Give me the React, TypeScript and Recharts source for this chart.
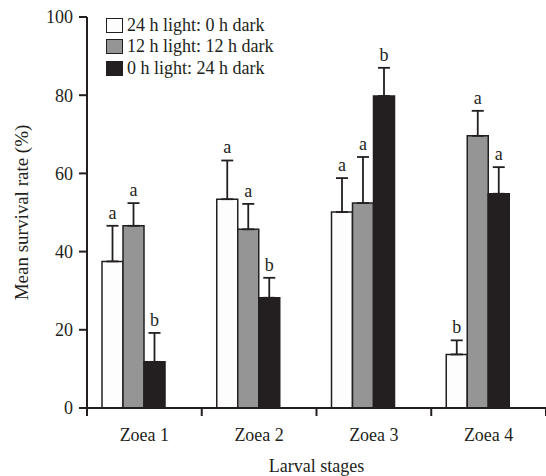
import React from 'react'
import {
  Bar,
  BarChart,
  ErrorBar,
  LabelList,
  Legend,
  XAxis,
  YAxis,
} from 'recharts'

const stages = ['Zoea 1', 'Zoea 2', 'Zoea 3', 'Zoea 4']

const light24 = [37.5, 53.4, 50.1, 13.7]
const light24Err = [9.1, 9.9, 8.7, 3.6]
const light24Sig = ['a', 'a', 'a', 'b']

const light12 = [46.6, 45.7, 52.4, 69.6]
const light12Err = [5.8, 6.5, 11.8, 6.4]
const light12Sig = ['a', 'a', 'a', 'a']

const light0 = [11.8, 28.2, 79.8, 54.8]
const light0Err = [7.4, 5.1, 7.2, 6.8]
const light0Sig = ['b', 'b', 'b', 'a']

const yTicks = [0, 20, 40, 60, 80, 100]

const series = [
  { key: 'l24', name: '24 h light: 0 h dark', fill: '#fdfdfd', values: light24, errs: light24Err, sig: light24Sig },
  { key: 'l12', name: '12 h light: 12 h dark', fill: '#959595', values: light12, errs: light12Err, sig: light12Sig },
  { key: 'l0', name: '0 h light: 24 h dark', fill: '#231f20', values: light0, errs: light0Err, sig: light0Sig },
]

const data = stages.map((stage, i) => {
  const row: any = { stage }
  series.forEach((s) => {
    row[s.key] = s.values[i]
    row[s.key + 'Err'] = [0, s.errs[i]]
    row[s.key + 'Sig'] = s.sig[i]
  })
  return row
})

const ink = '#231f20'
const font = 'Liberation Serif, serif'
const fs = 18

function StageTick(props: any) {
  const { x, y, payload, index, visibleTicksCount } = props
  const half = payload?.offset ?? (props.width ?? 459) / (visibleTicksCount ?? 4) / 2
  return (
    <g>
      <line x1={x - half} y1={y} x2={x - half} y2={y + 8} stroke={ink} strokeWidth={2} />
      {index === (visibleTicksCount ?? 4) - 1 && (
        <line x1={x + half} y1={y} x2={x + half} y2={y + 8} stroke={ink} strokeWidth={2} />
      )}
      <text x={x} y={y + 33} textAnchor="middle" fontSize={fs} fontFamily={font} fill={ink}>
        {payload.value}
      </text>
    </g>
  )
}

function letterLabel(errs: number[], values: number[]) {
  return (props: any) => {
    const { x, y, width, height, value, index } = props
    const pxPerUnit = height / values[index]
    const top = y - errs[index] * pxPerUnit
    return (
      <text x={x + width / 2} y={top - 7} textAnchor="middle" fontSize={fs} fontFamily={font} fill={ink}>
        {value}
      </text>
    )
  }
}

function LegendBox() {
  return (
    <div style={{ fontFamily: font, fontSize: fs, color: ink }}>
      {series.map((s) => (
        <div key={s.key} style={{ display: 'flex', alignItems: 'center', height: 21.3 }}>
          <div
            style={{
              width: 17,
              height: 15,
              boxSizing: 'border-box',
              border: `1.5px solid ${ink}`,
              background: s.fill,
            }}
          />
          <span style={{ marginLeft: 4, whiteSpace: 'nowrap' }}>{s.name}</span>
        </div>
      ))}
    </div>
  )
}

export default function App() {
  return (
    <div style={{ position: 'absolute', left: 0, top: 0, background: '#fff' }}>
      <BarChart
        width={546}
        height={476}
        data={data}
        margin={{ top: 17, right: 0, bottom: 0, left: 0 }}
        barSize={21}
        barGap={0}
      >
        <XAxis
          dataKey="stage"
          interval={0}
          height={68}
          tickLine={false}
          tickSize={0}
          tickMargin={0}
          axisLine={{ stroke: ink, strokeWidth: 2 }}
          tick={<StageTick />}
          label={(p: any) => {
            const vb = p.viewBox
            return (
              <text
                x={vb.x + vb.width / 2}
                y={472}
                textAnchor="middle"
                fontSize={fs}
                fontFamily={font}
                fill={ink}
              >
                Larval stages
              </text>
            )
          }}
        />
        <YAxis
          domain={[0, 100]}
          ticks={yTicks}
          width={87}
          tickSize={8}
          tickMargin={6}
          axisLine={{ stroke: ink, strokeWidth: 2 }}
          tickLine={{ stroke: ink, strokeWidth: 2 }}
          tick={{ fontSize: fs, fontFamily: font, fill: ink }}
          label={(p: any) => {
            const vb = p.viewBox
            const cy = vb.y + vb.height / 2
            return (
              <text
                x={21}
                y={cy}
                transform={`rotate(-90, 21, ${cy})`}
                textAnchor="middle"
                dominantBaseline="central"
                fontSize={19}
                fontFamily={font}
                fill={ink}
              >
                Mean survival rate (%)
              </text>
            )
          }}
        />
        <Legend
          layout="vertical"
          align="center"
          verticalAlign="middle"
          wrapperStyle={{ top: 15, left: 106, width: 'auto', height: 'auto' }}
          content={() => <LegendBox />}
        />
        {series.map((s) => (
          <Bar
            key={s.key}
            dataKey={s.key}
            name={s.name}
            fill={s.fill}
            stroke={ink}
            strokeWidth={1.5}
            isAnimationActive={false}
          >
            <ErrorBar
              dataKey={s.key + 'Err'}
              width={6}
              stroke={ink}
              strokeWidth={1.8}
              direction="y"
            />
            <LabelList dataKey={s.key + 'Sig'} content={letterLabel(s.errs, s.values)} />
          </Bar>
        ))}
        {/* empty slot so each group sits left of its band centre, as in the original */}
        <Bar dataKey="pad" fill="none" legendType="none" isAnimationActive={false} />
      </BarChart>
    </div>
  )
}
